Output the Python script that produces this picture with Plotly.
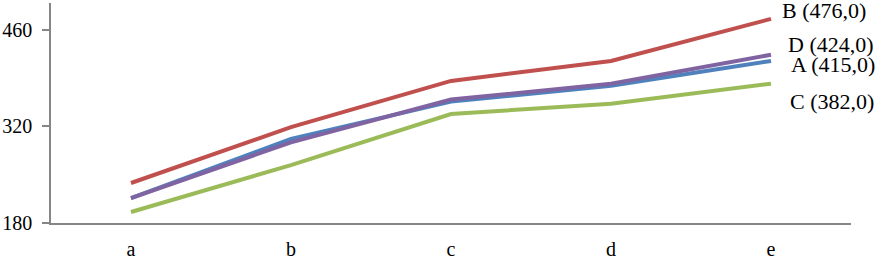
import plotly.graph_objects as go

categories = ["a", "b", "c", "d", "e"]
series_names = ["A", "B", "C", "D"]
A_values = [216, 302, 356, 379, 415]
B_values = [238, 319, 386, 415, 476]
C_values = [196, 264, 338, 353, 382]
D_values = [216, 297, 359, 382, 424]
y_ticks = [180, 320, 460]

colors = {"A": "#4F81BD", "B": "#C0504D", "C": "#9BBB59", "D": "#8064A2"}
values = {"A": A_values, "B": B_values, "C": C_values, "D": D_values}
label_shift = {"A": (18, -4), "B": (9, 8), "C": (17, -18), "D": (15, 10)}

FONT = "Liberation Serif, Times New Roman, serif"

fig = go.Figure()
for name in series_names:
    fig.add_trace(go.Scatter(
        x=categories, y=values[name], mode="lines", name=name,
        line=dict(color=colors[name], width=4),
    ))
    xs, ys = label_shift[name]
    fig.add_annotation(
        x=categories[-1], y=values[name][-1], xref="x", yref="y",
        text=f"{name} ({values[name][-1]},0)", showarrow=False,
        xanchor="left", yanchor="middle", xshift=xs, yshift=ys,
        font=dict(family=FONT, size=22, color="black"),
    )

fig.update_layout(
    width=878, height=257,
    margin=dict(l=51, r=27, t=3, b=34, autoexpand=False),
    paper_bgcolor="white", plot_bgcolor="white",
    showlegend=False,
    font=dict(family=FONT, size=20, color="black"),
)
fig.update_xaxes(
    type="category", range=[-0.5, 4.5], automargin=False,
    showline=True, linecolor="#868686", linewidth=1.5,
    showgrid=False, ticks="", zeroline=False,
    tickfont=dict(family=FONT, size=20, color="black"),
    ticklabelstandoff=7,
)
fig.update_yaxes(
    range=[180, 499], tickvals=y_ticks, automargin=False,
    showline=True, linecolor="#868686", linewidth=1.5,
    showgrid=False, ticks="outside", ticklen=7, tickcolor="#868686", tickwidth=1.5,
    zeroline=False,
    tickfont=dict(family=FONT, size=20, color="black"),
    ticklabelstandoff=6,
)

# remove the browser's default 8px body margin so the figure fills the window
fig.write_html(
    "out.html",
    config={"displayModeBar": False},
    post_script="document.body.style.margin='0';document.body.style.overflow='hidden';",
)
